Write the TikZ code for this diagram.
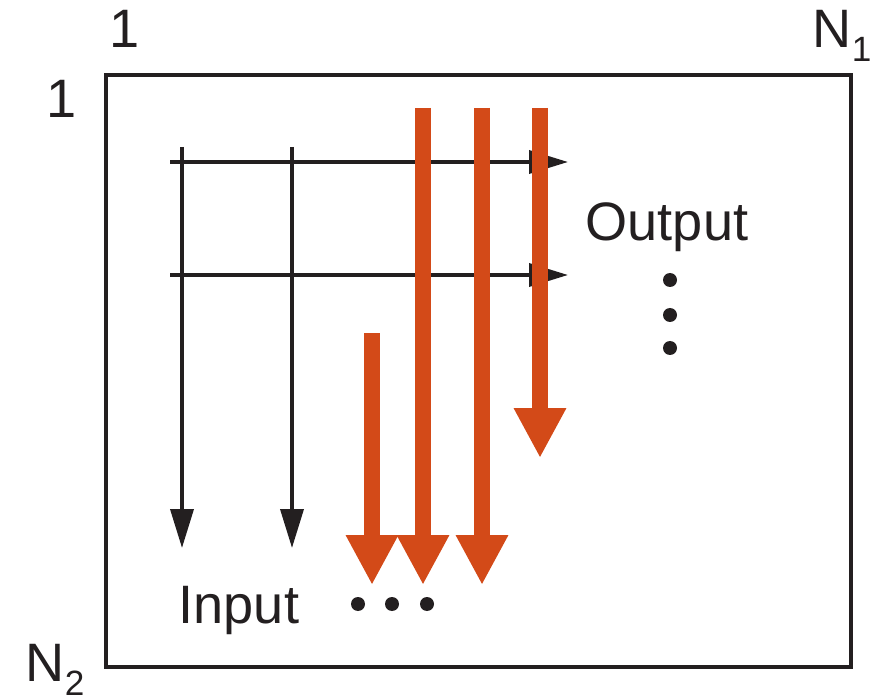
\documentclass[tikz,border=0pt]{standalone}
\usepackage{fontspec}
\setmainfont{Liberation Sans}
\usepackage{tikz}
\usetikzlibrary{arrows.meta}
\definecolor{ink}{HTML}{231F20}
\definecolor{burst}{HTML}{D34A18}
\newcommand{\lowidx}[1]{\raisebox{-3.7pt}{\fontsize{10}{12}\selectfont #1}}
\tikzset{
  bx/.style={draw=ink, line width=1.1pt},                                   % outer frame
  ba/.style={draw=ink, line width=1.05pt, -{Triangle[width=2.3mm,length=3.9mm]}}, % black arrow
  ra/.style={draw=burst, line width=4.8pt, -{Triangle[width=4.9mm,length=5mm]}},  % red arrow
  lb/.style={text=ink, inner sep=0pt, font=\fontsize{15.4}{18}\selectfont},
  dt/.style={circle, fill=ink, inner sep=0pt, minimum size=1.4mm},
}
\begin{document}
\begin{tikzpicture}
  \useasboundingbox (0,0) rectangle (8.77,6.98);
  \draw[bx] (1.06,0.31) rectangle (8.51,6.23);
  % axis labels
  \node[lb, anchor=base] (c1) at (1.25,6.50) {1};
  \node[lb, anchor=base west] (cn) at (8.12,6.50) {N\lowidx{1}};
  \node[lb, anchor=base] (r1) at (0.62,5.80) {1};
  \node[lb, anchor=base west] (rn) at (0.25,0.16) {N\lowidx{2}};
  % end points of the arrows
  \coordinate (h1s) at (1.70,5.36); \coordinate (h1e) at (5.68,5.36);
  \coordinate (h2s) at (1.70,4.23); \coordinate (h2e) at (5.68,4.23);
  \coordinate (v1s) at (1.82,5.51); \coordinate (v1e) at (1.82,1.50);
  \coordinate (v2s) at (2.92,5.51); \coordinate (v2e) at (2.92,1.50);
  \coordinate (r1s) at (3.72,3.65); \coordinate (r1e) at (3.72,1.13);
  \coordinate (r2s) at (4.23,5.90); \coordinate (r2e) at (4.23,1.13);
  \coordinate (r3s) at (4.82,5.90); \coordinate (r3e) at (4.82,1.13);
  \coordinate (r4s) at (5.40,5.90); \coordinate (r4e) at (5.40,2.40);
  \foreach \u/\v in {h1s/h1e,h2s/h2e,v1s/v1e,v2s/v2e}
    \draw[ba] (\u)--(\v);
  \foreach \u/\v in {r1s/r1e,r2s/r2e,r3s/r3e,r4s/r4e}
    \draw[ra] (\u)--(\v);
  \node[lb, anchor=base west] (out) at (5.85,4.57) {Output};
  \node[lb, anchor=base west] (in) at (1.78,0.75) {Input};
  \node[dt] (o1) at (6.70,4.18) {};
  \node[dt] (o2) at (6.70,3.83) {};
  \node[dt] (o3) at (6.70,3.50) {};
  \node[dt] (i1) at (3.58,0.94) {};
  \node[dt] (i2) at (3.92,0.94) {};
  \node[dt] (i3) at (4.27,0.94) {};
\end{tikzpicture}
\end{document}
